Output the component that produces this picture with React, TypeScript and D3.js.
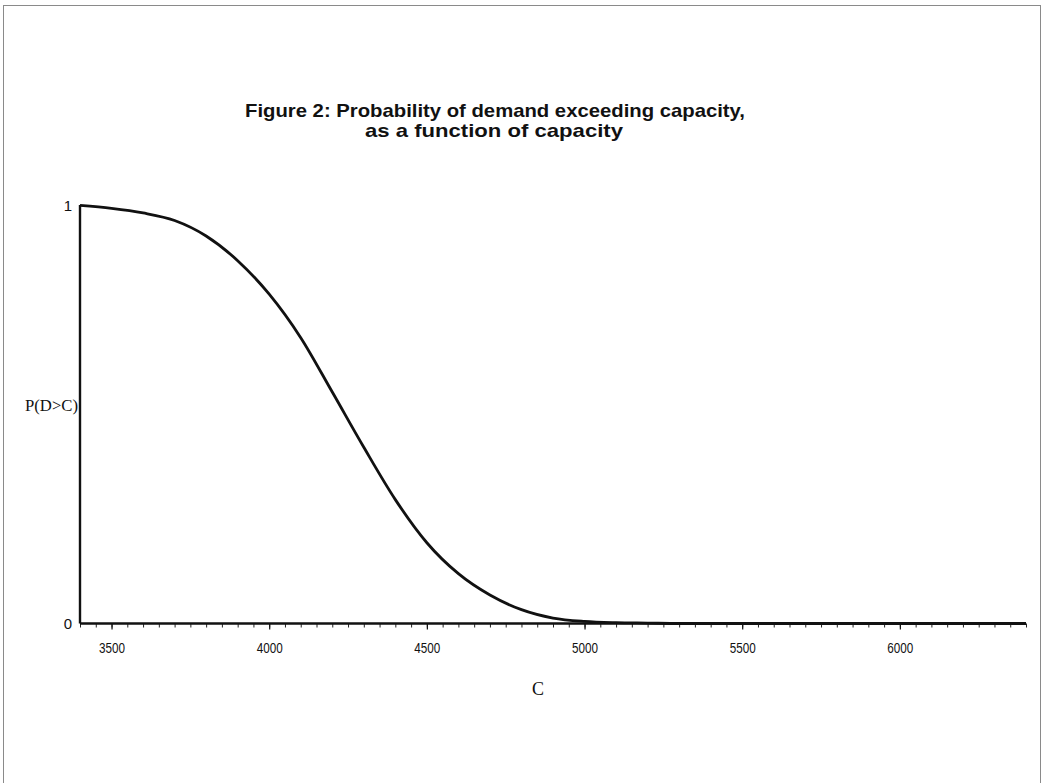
import React, { useRef, useEffect } from "react";
import * as d3 from "d3";

// capacity C and probability that demand exceeds it
const capacity = [
  3400, 3500, 3600, 3700, 3800, 3900, 4000, 4100, 4200, 4300, 4400, 4500,
  4600, 4700, 4800, 4900, 5000, 5100, 5200, 5300, 5400, 5500, 5600, 5700,
  5800, 5900, 6000, 6100, 6200, 6300, 6400,
];
const probExceed = [
  0.999, 0.992, 0.981, 0.963, 0.926, 0.867, 0.787, 0.683, 0.553, 0.421, 0.296,
  0.193, 0.119, 0.068, 0.033, 0.013, 0.005, 0.002, 0.001, 0, 0, 0, 0, 0, 0, 0,
  0, 0, 0, 0, 0,
];
const majorTicks = [3500, 4000, 4500, 5000, 5500, 6000];
const titleLines = [
  "Figure 2:  Probability of demand exceeding capacity,",
  "as a function of capacity",
];

const W = 1047;
const H = 783;

const App: React.FC = () => {
  const svgRef = useRef<SVGSVGElement | null>(null);

  useEffect(() => {
    if (!svgRef.current) return;
    const svg = d3.select(svgRef.current);
    svg.selectAll("*").remove();

    const x0 = 80;
    const x1 = 1026;
    const yTop = 205;
    const yBot = 623.5;

    const xScale = d3.scaleLinear().domain([3400, 6400]).range([x0, x1]);
    const yScale = d3.scaleLinear().domain([0, 1]).range([yBot, yTop]);

    svg.append("rect").attr("width", W).attr("height", H).attr("fill", "#fff");

    // scanned page frame
    svg
      .append("rect")
      .attr("x", 3.5)
      .attr("y", 5.5)
      .attr("width", 1037)
      .attr("height", H + 20)
      .attr("fill", "none")
      .attr("stroke", "#8a8a8a")
      .attr("stroke-width", 1);

    // title
    const title = svg
      .append("g")
      .attr("font-family", "'Liberation Sans', Arial, sans-serif")
      .attr("font-weight", "bold")
      .attr("font-size", 19)
      .attr("fill", "#111")
      .attr("text-anchor", "middle")
      .style("white-space", "pre");
    title
      .append("text")
      .attr("x", 495)
      .attr("y", 117)
      .attr("textLength", 500)
      .attr("lengthAdjust", "spacingAndGlyphs")
      .text(titleLines[0]);
    title
      .append("text")
      .attr("x", 494)
      .attr("y", 137)
      .attr("textLength", 258)
      .attr("lengthAdjust", "spacingAndGlyphs")
      .text(titleLines[1]);

    // minor ticks
    svg
      .append("g")
      .attr("transform", `translate(0,${yBot})`)
      .call(
        d3
          .axisBottom(xScale)
          .tickValues(d3.range(3400, 6401, 50))
          .tickSize(4)
          .tickFormat(() => "")
      )
      .call((g) => g.select(".domain").remove())
      .selectAll(".tick line")
      .attr("stroke", "#222")
      .attr("stroke-width", 1);

    // major ticks + labels
    const xAxis = svg
      .append("g")
      .attr("transform", `translate(0,${yBot})`)
      .call(
        d3
          .axisBottom(xScale)
          .tickValues(majorTicks)
          .tickSize(6)
          .tickPadding(0)
          .tickFormat((d) => `${d}`)
      );
    xAxis.select(".domain").remove();
    xAxis.selectAll(".tick line").attr("stroke", "#111").attr("stroke-width", 1.2);
    xAxis
      .selectAll(".tick text")
      .attr("y", 29)
      .attr("dy", null)
      .attr("fill", "#111")
      .attr("font-family", "'Liberation Sans', Arial, sans-serif")
      .attr("font-size", 15)
      .attr("textLength", 26)
      .attr("lengthAdjust", "spacingAndGlyphs");

    // axis lines
    svg
      .append("line")
      .attr("x1", x0)
      .attr("x2", x1)
      .attr("y1", yBot)
      .attr("y2", yBot)
      .attr("stroke", "#111")
      .attr("stroke-width", 2.6);
    svg
      .append("line")
      .attr("x1", x0)
      .attr("x2", x0)
      .attr("y1", yTop)
      .attr("y2", yBot)
      .attr("stroke", "#111")
      .attr("stroke-width", 2.4);

    // y labels
    const yLab = svg
      .append("g")
      .attr("font-family", "'Liberation Sans', Arial, sans-serif")
      .attr("font-size", 15)
      .attr("fill", "#111")
      .attr("text-anchor", "middle");
    [1, 0].forEach((v) => {
      yLab
        .append("text")
        .attr("x", 68)
        .attr("y", yScale(v) + 5.5)
        .text(`${v}`);
    });

    svg
      .append("text")
      .attr("x", 25)
      .attr("y", 411)
      .attr("font-family", "'Liberation Serif', 'Times New Roman', serif")
      .attr("font-size", 16)
      .attr("fill", "#111")
      .attr("textLength", 53)
      .attr("lengthAdjust", "spacingAndGlyphs")
      .text("P(D>C)");

    svg
      .append("text")
      .attr("x", 538)
      .attr("y", 695)
      .attr("text-anchor", "middle")
      .attr("font-family", "'Liberation Serif', 'Times New Roman', serif")
      .attr("font-size", 18)
      .attr("fill", "#111")
      .text("C");

    // curve
    const pts = capacity.map((c, i) => [c, probExceed[i]] as [number, number]);
    const line = d3
      .line<[number, number]>()
      .x((d) => xScale(d[0]))
      .y((d) => yScale(d[1]))
      .curve(d3.curveMonotoneX);
    svg
      .append("path")
      .datum(pts)
      .attr("d", line)
      .attr("fill", "none")
      .attr("stroke", "#111")
      .attr("stroke-width", 2.8)
      .attr("stroke-linejoin", "round");
  }, []);

  return (
    <svg
      ref={svgRef}
      width={W}
      height={H}
      style={{ position: "absolute", left: 0, top: 0 }}
    />
  );
};

export default App;
